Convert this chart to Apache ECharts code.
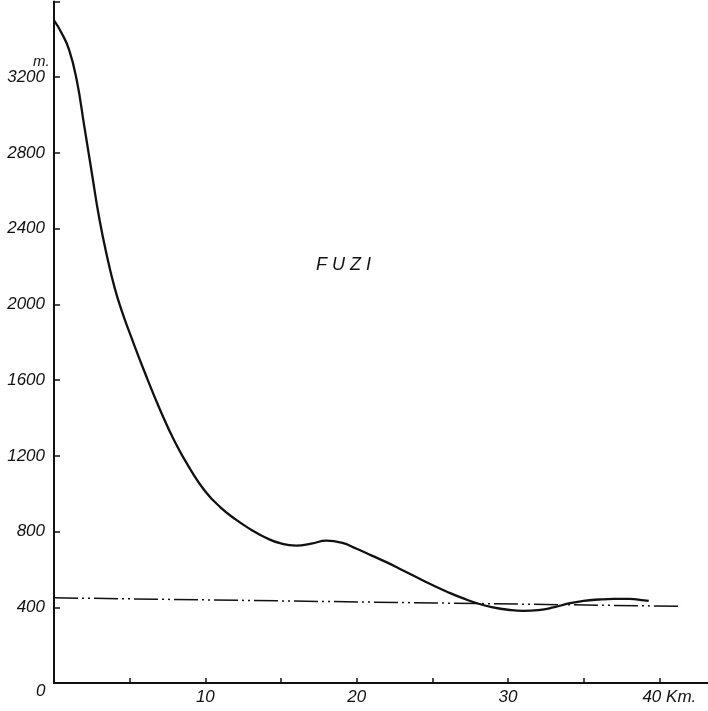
<!DOCTYPE html>
<html>
<head>
<meta charset="utf-8">
<script src="https://cdn.jsdelivr.net/npm/echarts@6/dist/echarts.min.js"></script>
<style>
    html, body { margin: 0; padding: 0; background: #fff; }
    #chart { width: 708px; height: 711px; }
</style>
</head>
<body>
<div id="chart"></div>
<script>
// profile of the slope, km from the summit vs height in m
const distKm = [0, 0.5, 1, 1.5, 2, 2.5, 3, 3.5, 4, 4.5, 5, 6, 7, 8, 9, 10, 11, 12, 13, 14, 15, 16, 17,
    18, 19, 20, 21, 22, 23, 24, 25, 26, 27, 28, 29, 30, 31, 32, 33, 34, 35, 36, 37, 38, 39, 39.3];
const heightM = [3500, 3434, 3344, 3185, 2942, 2694, 2451, 2255, 2090, 1960, 1850, 1640, 1445, 1272, 1130,
    1012, 928, 864, 811, 767, 737, 726, 736, 752, 741, 709, 673, 637, 597, 557, 518, 481, 448, 420, 400,
    387, 381, 385, 399, 420, 434, 441, 444, 444, 437, 434];

// dash-dot base line
const baseKm = [0, 41.5];
const baseM = [450, 405];

const xLabels = [10, 20, 30, 40];
const yLabels = [400, 800, 1200, 1600, 2000, 2400, 2800, 3200];

const font = 'Liberation Sans';
const ink = '#111';

let chart = echarts.init(document.getElementById('chart'));

let profile = distKm.map((d, i) => [d, heightM[i]]);
let base = baseKm.map((d, i) => [d, baseM[i]]);

let labelStyle = {
    fontFamily: font,
    fontStyle: 'italic',
    fontSize: 17,
    color: ink
};

let option = {
    animation: false,
    backgroundColor: '#fff',
    grid: {
        left: 54,
        right: -27,
        top: 1.5,
        bottom: 28,
        outerBoundsMode: 'none'
    },
    xAxis: {
        type: 'value',
        min: 0,
        max: 45,
        interval: 5,
        splitLine: { show: false },
        axisLine: { lineStyle: { color: ink, width: 2 } },
        axisTick: { inside: true, length: 5, lineStyle: { color: ink, width: 1.5 } },
        axisLabel: Object.assign({}, labelStyle, {
            margin: 6,
            formatter: function (v) {
                if (xLabels.indexOf(v) < 0) return '';
                if (v === 40) return '{k|40 Km.}';
                return String(v);
            },
            rich: {
                k: Object.assign({}, labelStyle, { padding: [0, 0, 0, 20] })
            }
        })
    },
    yAxis: {
        type: 'value',
        min: 0,
        max: 3600,
        interval: 400,
        splitLine: { show: false },
        axisLine: { lineStyle: { color: ink, width: 2 } },
        axisTick: { inside: true, length: 6, lineStyle: { color: ink, width: 1.5 } },
        axisLabel: Object.assign({}, labelStyle, {
            margin: 9,
            formatter: function (v) {
                return yLabels.indexOf(v) >= 0 ? String(v) : '';
            }
        })
    },
    graphic: [
        {
            type: 'text', left: 33, top: 54,
            style: { text: 'm.', fontFamily: font, fontStyle: 'italic', fontSize: 15, fill: ink }
        },
        {
            type: 'text', left: 36, top: 683,
            style: { text: '0', fontFamily: font, fontStyle: 'italic', fontSize: 17, fill: ink }
        },
        {
            type: 'text', left: 316, top: 256,
            style: { text: 'F U Z I', fontFamily: font, fontStyle: 'italic', fontSize: 18, fill: ink }
        }
    ],
    series: [
        {
            name: 'base',
            type: 'line',
            data: base,
            symbol: 'none',
            silent: true,
            lineStyle: { color: ink, width: 1.5, type: [24, 4, 2, 4, 2, 4] }
        },
        {
            name: 'profile',
            type: 'line',
            data: profile,
            symbol: 'none',
            smooth: 0.5,
            silent: true,
            lineStyle: { color: ink, width: 2.3 }
        }
    ]
};

chart.setOption(option);
</script>
</body>
</html>
